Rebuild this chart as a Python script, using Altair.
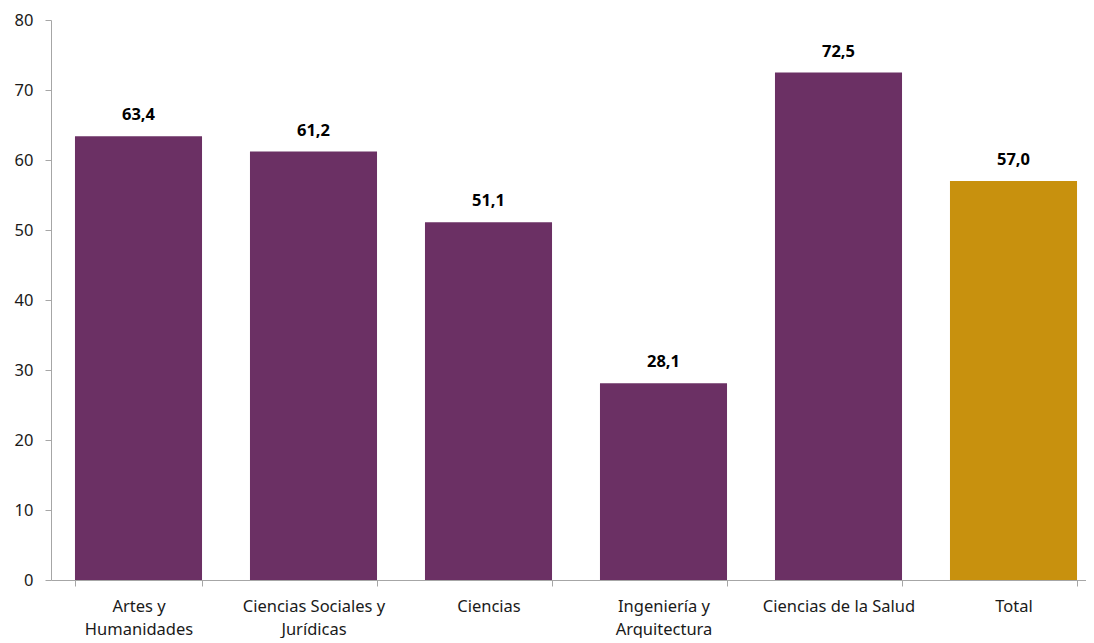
import altair as alt
import pandas as pd

categories = ["Artes y Humanidades", "Ciencias Sociales y Jurídicas", "Ciencias",
              "Ingeniería y Arquitectura", "Ciencias de la Salud", "Total"]
values = [63.4, 61.2, 51.1, 28.1, 72.5, 57.0]
label_lines = {
    "Artes y Humanidades": ["Artes y", "Humanidades"],
    "Ciencias Sociales y Jurídicas": ["Ciencias Sociales y", "Jurídicas"],
    "Ciencias": ["Ciencias"],
    "Ingeniería y Arquitectura": ["Ingeniería y", "Arquitectura"],
    "Ciencias de la Salud": ["Ciencias de la Salud"],
    "Total": ["Total"],
}
groups = ["area", "area", "area", "area", "area", "total"]
y_ticks = [0, 10, 20, 30, 40, 50, 60, 70, 80]

df = pd.DataFrame({
    "cat": categories,
    "val": values,
    "grp": groups,
    "txt": [f"{v:.1f}".replace(".", ",") for v in values],
})

parts = []
for k, v in label_lines.items():
    arr = "[" + ",".join("'" + s + "'" for s in v) + "]"
    parts.append(f"datum.value == '{k}' ? {arr}")
label_expr = " : ".join(parts) + " : datum.value"

FONT = "Noto Sans"
FS = 16.5

x_scale = alt.Scale(paddingInner=0.274, paddingOuter=0.137, range=[0, 1050])
x = alt.X("cat:N", sort=categories, title=None, scale=x_scale,
          axis=alt.Axis(labelAngle=0, labelExpr=label_expr, tickBand="extent",
                        domainColor="#A6A6A6", tickColor="#A6A6A6", tickSize=6,
                        labelPadding=12, labelFontSize=FS, labelColor="#1a1a1a",
                        labelLineHeight=23, labelFont=FONT, labelBaseline="top"))
y = alt.Y("val:Q", title=None,
          scale=alt.Scale(domain=[0, 80], nice=False),
          axis=alt.Axis(values=y_ticks, grid=False, domainColor="#A6A6A6",
                        tickColor="#A6A6A6", tickSize=6, labelPadding=12,
                        labelFontSize=FS, labelColor="#1a1a1a", labelFont=FONT))

base = alt.Chart(df)
bars = base.mark_bar().encode(
    x=x, y=y,
    color=alt.Color("grp:N", scale=alt.Scale(domain=["area", "total"],
                                             range=["#6B3064", "#C8910E"]),
                    legend=None),
)
text = base.mark_text(fontWeight="bold", fontSize=FS, font=FONT, dy=-21,
                      baseline="middle", color="#000000").encode(
    x=alt.X("cat:N", sort=categories), y="val:Q", text="txt:N")

chart = (bars + text).properties(
    width=1035, height=560,
    autosize=alt.AutoSizeParams(type="none"),
    padding={"top": 12, "left": 43, "right": 0, "bottom": 58},
).configure_view(stroke=None)

chart.save("out.html", embed_options={"renderer": "svg", "actions": False})
